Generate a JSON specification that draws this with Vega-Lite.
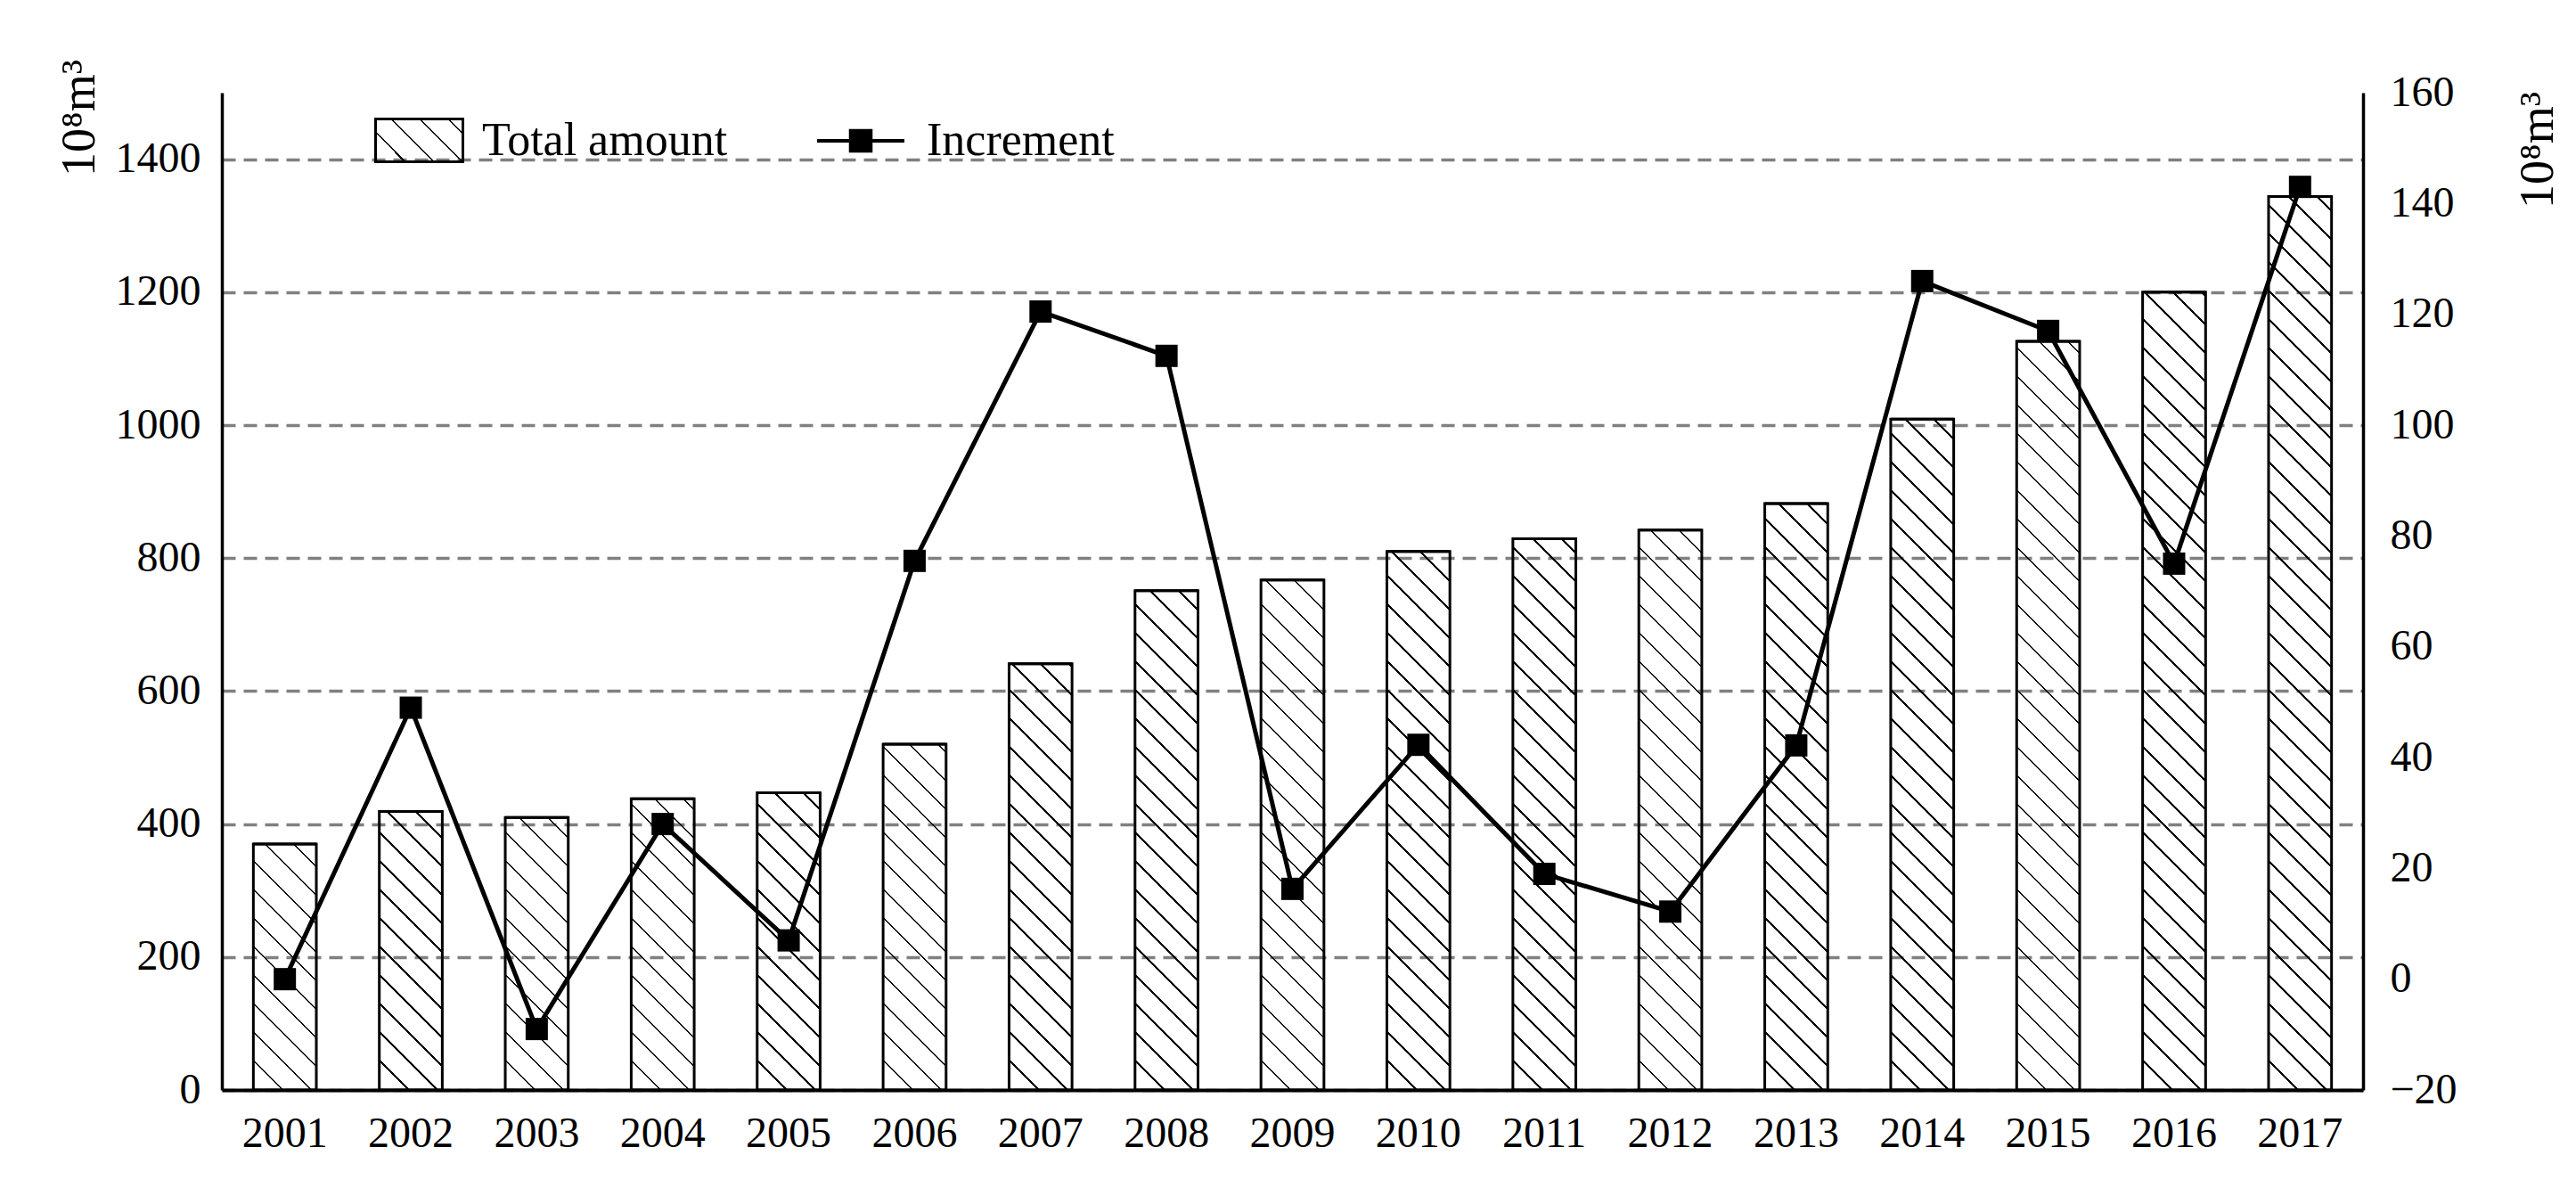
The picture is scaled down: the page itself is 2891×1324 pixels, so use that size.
{
  "$schema": "https://vega.github.io/schema/vega-lite/v6.json",
  "width": 2403,
  "height": 1119,
  "autosize": {"type": "none"},
  "padding": {"left": 249, "top": 104, "right": 239, "bottom": 101},
  "background": "white",
  "params": [
    {"name": "hatch", "value": [
      {"offset":0,"color":"#000"},{"offset":0.002,"color":"#000"},{"offset":0.002,"color":"rgba(0,0,0,0)"},{"offset":0.025,"color":"rgba(0,0,0,0)"},
      {"offset":0.025,"color":"#000"},{"offset":0.027,"color":"#000"},{"offset":0.027,"color":"rgba(0,0,0,0)"},{"offset":0.05,"color":"rgba(0,0,0,0)"},
      {"offset":0.05,"color":"#000"},{"offset":0.052,"color":"#000"},{"offset":0.052,"color":"rgba(0,0,0,0)"},{"offset":0.075,"color":"rgba(0,0,0,0)"},
      {"offset":0.075,"color":"#000"},{"offset":0.077,"color":"#000"},{"offset":0.077,"color":"rgba(0,0,0,0)"},{"offset":0.1,"color":"rgba(0,0,0,0)"},
      {"offset":0.1,"color":"#000"},{"offset":0.102,"color":"#000"},{"offset":0.102,"color":"rgba(0,0,0,0)"},{"offset":0.125,"color":"rgba(0,0,0,0)"},
      {"offset":0.125,"color":"#000"},{"offset":0.127,"color":"#000"},{"offset":0.127,"color":"rgba(0,0,0,0)"},{"offset":0.15,"color":"rgba(0,0,0,0)"},
      {"offset":0.15,"color":"#000"},{"offset":0.152,"color":"#000"},{"offset":0.152,"color":"rgba(0,0,0,0)"},{"offset":0.175,"color":"rgba(0,0,0,0)"},
      {"offset":0.175,"color":"#000"},{"offset":0.177,"color":"#000"},{"offset":0.177,"color":"rgba(0,0,0,0)"},{"offset":0.2,"color":"rgba(0,0,0,0)"},
      {"offset":0.2,"color":"#000"},{"offset":0.202,"color":"#000"},{"offset":0.202,"color":"rgba(0,0,0,0)"},{"offset":0.225,"color":"rgba(0,0,0,0)"},
      {"offset":0.225,"color":"#000"},{"offset":0.227,"color":"#000"},{"offset":0.227,"color":"rgba(0,0,0,0)"},{"offset":0.25,"color":"rgba(0,0,0,0)"},
      {"offset":0.25,"color":"#000"},{"offset":0.252,"color":"#000"},{"offset":0.252,"color":"rgba(0,0,0,0)"},{"offset":0.275,"color":"rgba(0,0,0,0)"},
      {"offset":0.275,"color":"#000"},{"offset":0.277,"color":"#000"},{"offset":0.277,"color":"rgba(0,0,0,0)"},{"offset":0.3,"color":"rgba(0,0,0,0)"},
      {"offset":0.3,"color":"#000"},{"offset":0.302,"color":"#000"},{"offset":0.302,"color":"rgba(0,0,0,0)"},{"offset":0.325,"color":"rgba(0,0,0,0)"},
      {"offset":0.325,"color":"#000"},{"offset":0.327,"color":"#000"},{"offset":0.327,"color":"rgba(0,0,0,0)"},{"offset":0.35,"color":"rgba(0,0,0,0)"},
      {"offset":0.35,"color":"#000"},{"offset":0.352,"color":"#000"},{"offset":0.352,"color":"rgba(0,0,0,0)"},{"offset":0.375,"color":"rgba(0,0,0,0)"},
      {"offset":0.375,"color":"#000"},{"offset":0.377,"color":"#000"},{"offset":0.377,"color":"rgba(0,0,0,0)"},{"offset":0.4,"color":"rgba(0,0,0,0)"},
      {"offset":0.4,"color":"#000"},{"offset":0.402,"color":"#000"},{"offset":0.402,"color":"rgba(0,0,0,0)"},{"offset":0.425,"color":"rgba(0,0,0,0)"},
      {"offset":0.425,"color":"#000"},{"offset":0.427,"color":"#000"},{"offset":0.427,"color":"rgba(0,0,0,0)"},{"offset":0.45,"color":"rgba(0,0,0,0)"},
      {"offset":0.45,"color":"#000"},{"offset":0.452,"color":"#000"},{"offset":0.452,"color":"rgba(0,0,0,0)"},{"offset":0.475,"color":"rgba(0,0,0,0)"},
      {"offset":0.475,"color":"#000"},{"offset":0.477,"color":"#000"},{"offset":0.477,"color":"rgba(0,0,0,0)"},{"offset":0.5,"color":"rgba(0,0,0,0)"},
      {"offset":0.5,"color":"#000"},{"offset":0.502,"color":"#000"},{"offset":0.502,"color":"rgba(0,0,0,0)"},{"offset":0.525,"color":"rgba(0,0,0,0)"},
      {"offset":0.525,"color":"#000"},{"offset":0.527,"color":"#000"},{"offset":0.527,"color":"rgba(0,0,0,0)"},{"offset":0.55,"color":"rgba(0,0,0,0)"},
      {"offset":0.55,"color":"#000"},{"offset":0.552,"color":"#000"},{"offset":0.552,"color":"rgba(0,0,0,0)"},{"offset":0.575,"color":"rgba(0,0,0,0)"},
      {"offset":0.575,"color":"#000"},{"offset":0.577,"color":"#000"},{"offset":0.577,"color":"rgba(0,0,0,0)"},{"offset":0.6,"color":"rgba(0,0,0,0)"},
      {"offset":0.6,"color":"#000"},{"offset":0.602,"color":"#000"},{"offset":0.602,"color":"rgba(0,0,0,0)"},{"offset":0.625,"color":"rgba(0,0,0,0)"},
      {"offset":0.625,"color":"#000"},{"offset":0.627,"color":"#000"},{"offset":0.627,"color":"rgba(0,0,0,0)"},{"offset":0.65,"color":"rgba(0,0,0,0)"},
      {"offset":0.65,"color":"#000"},{"offset":0.652,"color":"#000"},{"offset":0.652,"color":"rgba(0,0,0,0)"},{"offset":0.675,"color":"rgba(0,0,0,0)"},
      {"offset":0.675,"color":"#000"},{"offset":0.677,"color":"#000"},{"offset":0.677,"color":"rgba(0,0,0,0)"},{"offset":0.7,"color":"rgba(0,0,0,0)"},
      {"offset":0.7,"color":"#000"},{"offset":0.702,"color":"#000"},{"offset":0.702,"color":"rgba(0,0,0,0)"},{"offset":0.725,"color":"rgba(0,0,0,0)"},
      {"offset":0.725,"color":"#000"},{"offset":0.727,"color":"#000"},{"offset":0.727,"color":"rgba(0,0,0,0)"},{"offset":0.75,"color":"rgba(0,0,0,0)"},
      {"offset":0.75,"color":"#000"},{"offset":0.752,"color":"#000"},{"offset":0.752,"color":"rgba(0,0,0,0)"},{"offset":0.775,"color":"rgba(0,0,0,0)"},
      {"offset":0.775,"color":"#000"},{"offset":0.777,"color":"#000"},{"offset":0.777,"color":"rgba(0,0,0,0)"},{"offset":0.8,"color":"rgba(0,0,0,0)"},
      {"offset":0.8,"color":"#000"},{"offset":0.802,"color":"#000"},{"offset":0.802,"color":"rgba(0,0,0,0)"},{"offset":0.825,"color":"rgba(0,0,0,0)"},
      {"offset":0.825,"color":"#000"},{"offset":0.827,"color":"#000"},{"offset":0.827,"color":"rgba(0,0,0,0)"},{"offset":0.85,"color":"rgba(0,0,0,0)"},
      {"offset":0.85,"color":"#000"},{"offset":0.852,"color":"#000"},{"offset":0.852,"color":"rgba(0,0,0,0)"},{"offset":0.875,"color":"rgba(0,0,0,0)"},
      {"offset":0.875,"color":"#000"},{"offset":0.877,"color":"#000"},{"offset":0.877,"color":"rgba(0,0,0,0)"},{"offset":0.9,"color":"rgba(0,0,0,0)"},
      {"offset":0.9,"color":"#000"},{"offset":0.902,"color":"#000"},{"offset":0.902,"color":"rgba(0,0,0,0)"},{"offset":0.925,"color":"rgba(0,0,0,0)"},
      {"offset":0.925,"color":"#000"},{"offset":0.927,"color":"#000"},{"offset":0.927,"color":"rgba(0,0,0,0)"},{"offset":0.95,"color":"rgba(0,0,0,0)"},
      {"offset":0.95,"color":"#000"},{"offset":0.952,"color":"#000"},{"offset":0.952,"color":"rgba(0,0,0,0)"},{"offset":0.975,"color":"rgba(0,0,0,0)"},
      {"offset":0.975,"color":"#000"},{"offset":0.977,"color":"#000"},{"offset":0.977,"color":"rgba(0,0,0,0)"},{"offset":1,"color":"rgba(0,0,0,0)"}
    ]}
  ],
  "data": {"values": [
    {"year": "2001", "Total": 370, "Increment": 0},
    {"year": "2002", "Total": 419, "Increment": 49},
    {"year": "2003", "Total": 410, "Increment": -9},
    {"year": "2004", "Total": 438, "Increment": 28},
    {"year": "2005", "Total": 447, "Increment": 7},
    {"year": "2006", "Total": 520, "Increment": 75.5},
    {"year": "2007", "Total": 641, "Increment": 120.5},
    {"year": "2008", "Total": 751, "Increment": 112.5},
    {"year": "2009", "Total": 767, "Increment": 16.3},
    {"year": "2010", "Total": 810, "Increment": 42.3},
    {"year": "2011", "Total": 829, "Increment": 19},
    {"year": "2012", "Total": 842, "Increment": 12.2},
    {"year": "2013", "Total": 882, "Increment": 42.2},
    {"year": "2014", "Total": 1009, "Increment": 126},
    {"year": "2015", "Total": 1126, "Increment": 117},
    {"year": "2016", "Total": 1200, "Increment": 75},
    {"year": "2017", "Total": 1344, "Increment": 143}
  ]},
  "encoding": {
    "x": {
      "field": "year", "type": "ordinal",
      "scale": {"paddingInner": 0.5, "paddingOuter": 0.25},
      "axis": {"title": null, "labelAngle": 0, "domainWidth": 4, "domainColor": "black", "ticks": false, "grid": false, "labelPadding": 25, "labelFontSize": 48}
    }
  },
  "layer": [
    {
      "encoding": {
        "y": {
          "field": "Total", "type": "quantitative",
          "scale": {"domain": [0, 1500], "nice": false},
          "axis": {
            "orient": "left", "format": "d",
            "values": [0, 200, 400, 600, 800, 1000, 1200, 1400],
            "grid": true, "gridDash": [15, 9], "gridColor": "#808080", "gridWidth": 3.5, "gridOpacity": 1,
            "domainWidth": 3.5, "domainColor": "black", "ticks": false, "labelPadding": 24, "labelFontSize": 48,
            "title": "10⁸m³", "titleAngle": 270, "titleX": -160, "titleY": 28, "titleAlign": "center", "titleBaseline": "middle",
            "titleFontSize": 54, "titleFontWeight": "normal", "titleFont": "Liberation Serif"
          }
        }
      },
      "layer": [
        {
          "mark": {"type": "bar", "strokeWidth": 3,
            "fill": {"gradient": "linear", "x1": 0, "y1": 1, "x2": 1.317, "y2": 0.355, "stops": [
              {"offset":0,"color":"#000"},{"offset":0.016,"color":"#000"},{"offset":0.016,"color":"rgba(0,0,0,0)"},{"offset":0.2,"color":"rgba(0,0,0,0)"},
              {"offset":0.2,"color":"#000"},{"offset":0.216,"color":"#000"},{"offset":0.216,"color":"rgba(0,0,0,0)"},{"offset":0.4,"color":"rgba(0,0,0,0)"},
              {"offset":0.4,"color":"#000"},{"offset":0.416,"color":"#000"},{"offset":0.416,"color":"rgba(0,0,0,0)"},{"offset":0.6,"color":"rgba(0,0,0,0)"},
              {"offset":0.6,"color":"#000"},{"offset":0.616,"color":"#000"},{"offset":0.616,"color":"rgba(0,0,0,0)"},{"offset":0.8,"color":"rgba(0,0,0,0)"},
              {"offset":0.8,"color":"#000"},{"offset":0.816,"color":"#000"},{"offset":0.816,"color":"rgba(0,0,0,0)"},{"offset":1,"color":"rgba(0,0,0,0)"}
            ]}
          },
          "encoding": {
            "y2": {"field": "Total"},
            "stroke": {"datum": "Total amount", "type": "nominal", "scale": {"range": ["black"]},
              "legend": {
                "title": null, "orient": "none", "legendX": 171, "legendY": 3, "padding": 0,
                "symbolType": "M-1,-0.49H1V0.49H-1Z", "symbolSize": 9604,
                "symbolStrokeColor": "black", "symbolStrokeWidth": 3,
                "labelFont": "Liberation Serif", "labelFontSize": 52, "labelOffset": 20, "labelColor": "black", "labelLimit": 0
              }
            }
          }
        },
        {
          "mark": {"type": "bar", "stroke": "black", "strokeWidth": 3},
          "encoding": {
            "fill": {"value": {"expr": "{gradient: 'linear', x1: 0, y1: 1, x2: 90465/(4995+pow(0.746*datum.Total,2)), y2: 1 - 1280*0.746*datum.Total/(4995+pow(0.746*datum.Total,2)), stops: hatch}"}}
          }
        }
      ]
    },
    {
      "encoding": {
        "y": {
          "field": "Increment", "type": "quantitative",
          "scale": {"domain": [-20, 160], "nice": false, "zero": false},
          "axis": {
            "orient": "right",
            "values": [-20, 0, 20, 40, 60, 80, 100, 120, 140, 160],
            "grid": false, "domainWidth": 3.5, "domainColor": "black", "ticks": false, "labelPadding": 30, "labelFontSize": 48,
            "title": "10⁸m³", "titleAngle": 270, "titleX": 196, "titleY": 64, "titleAlign": "center", "titleBaseline": "middle",
            "titleFontSize": 54, "titleFontWeight": "normal", "titleFont": "Liberation Serif"
          }
        }
      },
      "layer": [
        {
          "mark": {"type": "line", "strokeWidth": 5},
          "encoding": {
            "stroke": {"datum": "Increment", "type": "nominal", "scale": {"range": ["black"]},
              "legend": {
                "title": null, "orient": "none", "legendX": 666, "legendY": 3, "padding": 0,
                "symbolType": "M-1,0H1M-0.23,-0.23H0.23V0.23H-0.23Z", "symbolSize": 9604,
                "symbolStrokeColor": "black", "symbolFillColor": "black", "symbolStrokeWidth": 4,
                "labelFont": "Liberation Serif", "labelFontSize": 52, "labelOffset": 23, "labelColor": "black", "labelLimit": 0
              }
            }
          }
        },
        {
          "mark": {"type": "point", "shape": "square", "filled": true, "size": 625, "color": "black", "opacity": 1}
        }
      ]
    }
  ],
  "resolve": {"scale": {"y": "independent", "stroke": "independent"}, "legend": {"stroke": "independent"}},
  "config": {
    "font": "Liberation Serif",
    "view": {"stroke": null},
    "axis": {"labelFont": "Liberation Serif", "labelColor": "black", "titleColor": "black", "tickSize": 0, "labelOverlap": false, "labelFlush": false},
    "legend": {"labelFont": "Liberation Serif"}
  }
}
